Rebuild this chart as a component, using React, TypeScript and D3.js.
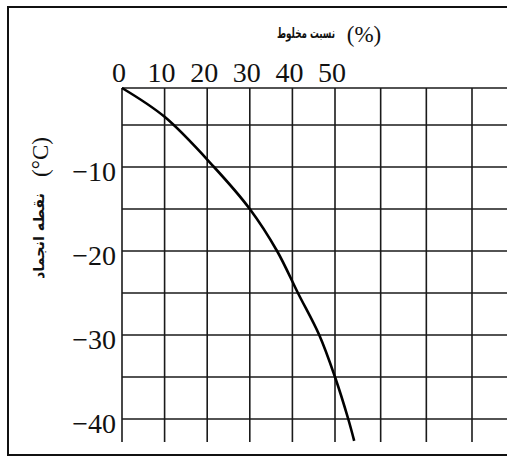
import { useEffect, useRef } from 'react';
import * as d3 from 'd3';

// mixture ratio (%) vs freezing point (°C)
const mixPct = [0, 10, 21.6, 30, 36.4, 41.3, 46.3, 50, 52.9, 54.2];
const freezeC = [0, -3.9, -10, -15, -20, -25, -30, -35, -40, -42.6];

const xTicks = [0, 10, 20, 30, 40, 50];
const xGrid = [0, 10, 20, 30, 40, 50, 60, 70, 80];
const yTicks = [-10, -20, -30, -40];
const yGrid = [0, -5, -10, -15, -20, -25, -30, -35, -40];

const xTitle = 'نسبت مخلوط';
const yTitle = 'نقطه انجماد';

export default function App() {
  const svgRef = useRef<SVGSVGElement>(null);

  useEffect(() => {
    if (!svgRef.current) return;
    document.body.style.margin = '0';

    const width = 507;
    const height = 457;
    const svg = d3.select(svgRef.current);
    svg.selectAll('*').remove();
    svg.attr('width', width).attr('height', height);

    svg.append('rect').attr('width', width).attr('height', height).attr('fill', '#fff');

    // outer frame (right side runs off the page)
    svg
      .append('rect')
      .attr('x', 8)
      .attr('y', 7)
      .attr('width', width + 20)
      .attr('height', 448)
      .attr('fill', 'none')
      .attr('stroke', '#111')
      .attr('stroke-width', 2);

    // the scanned grid is not quite even, so piecewise scales
    const x = d3.scaleLinear().domain([0, 50, 80]).range([122, 335, 472]);
    const y = d3.scaleLinear().domain([0, -5, -40]).range([88, 125, 419]);
    const yBottom = 442;

    const grid = svg.append('g').attr('stroke', '#1a1a1a').attr('stroke-width', 1.6);

    grid
      .selectAll('.vline')
      .data(xGrid)
      .enter()
      .append('line')
      .attr('x1', (d) => x(d))
      .attr('x2', (d) => x(d))
      .attr('y1', y(0))
      .attr('y2', yBottom);

    grid
      .selectAll('.hline')
      .data(yGrid)
      .enter()
      .append('line')
      .attr('x1', x(0))
      .attr('x2', width)
      .attr('y1', (d) => y(d))
      .attr('y2', (d) => y(d));

    // top tick labels
    svg
      .append('g')
      .selectAll('text')
      .data(xTicks)
      .enter()
      .append('text')
      .attr('x', (d) => x(d) - 3)
      .attr('y', 82)
      .attr('text-anchor', 'middle')
      .style('font-family', 'Liberation Serif, serif')
      .style('font-size', '28px')
      .attr('fill', '#111')
      .text((d) => String(d));

    // left tick labels
    svg
      .append('g')
      .selectAll('text')
      .data(yTicks)
      .enter()
      .append('text')
      .attr('x', 116)
      .attr('y', (d) => y(d) + 14)
      .attr('text-anchor', 'end')
      .style('font-family', 'Liberation Serif, serif')
      .style('font-size', '28px')
      .attr('fill', '#111')
      .text((d) => '\u2212' + Math.abs(d));

    // axis titles
    svg
      .append('text')
      .attr('x', 364)
      .attr('y', 42)
      .attr('text-anchor', 'middle')
      .style('font-family', 'Liberation Serif, serif')
      .style('font-size', '23px')
      .attr('fill', '#111')
      .text('(%)');

    svg
      .append('text')
      .attr('x', 335)
      .attr('y', 38)
      .attr('text-anchor', 'end')
      .attr('textLength', 58)
      .attr('lengthAdjust', 'spacingAndGlyphs')
      .style('font-family', 'DejaVu Sans, sans-serif')
      .style('font-size', '14px')
      .style('font-weight', 'bold')
      .attr('fill', '#111')
      .text(xTitle);

    svg
      .append('text')
      .attr('transform', 'translate(48,157) rotate(-90)')
      .attr('text-anchor', 'middle')
      .style('font-family', 'Liberation Serif, serif')
      .style('font-size', '23px')
      .attr('fill', '#111')
      .text('(°C)');

    svg
      .append('text')
      .attr('transform', 'translate(44,236) rotate(-90)')
      .attr('text-anchor', 'middle')
      .attr('textLength', 86)
      .attr('lengthAdjust', 'spacingAndGlyphs')
      .style('font-family', 'DejaVu Sans, sans-serif')
      .style('font-size', '15px')
      .style('font-weight', 'bold')
      .attr('fill', '#111')
      .text(yTitle);

    // freezing point curve
    const points = mixPct.map((m, i) => [m, freezeC[i]] as [number, number]);
    const line = d3
      .line<[number, number]>()
      .x((d) => x(d[0]))
      .y((d) => y(d[1]))
      .curve(d3.curveCatmullRom.alpha(0.5));

    svg
      .append('path')
      .datum(points)
      .attr('d', line)
      .attr('fill', 'none')
      .attr('stroke', '#000')
      .attr('stroke-width', 2.6);
  }, []);

  return <svg ref={svgRef} style={{ display: 'block' }}></svg>;
}
